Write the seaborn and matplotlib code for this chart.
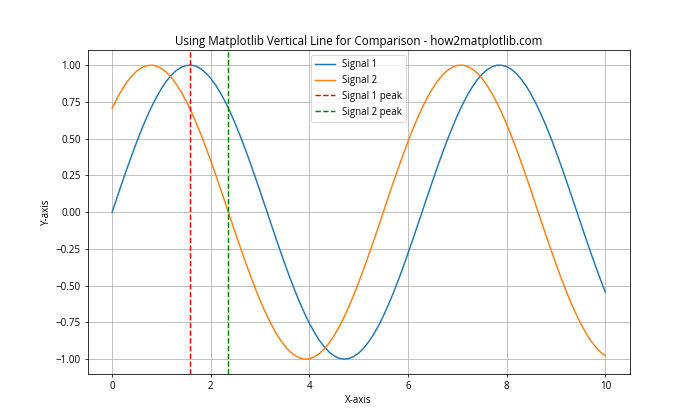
import matplotlib
matplotlib.use("Agg")
import matplotlib.pyplot as plt
import seaborn as sns
import pandas as pd

plt.rcParams['font.family'] = ['Open Sans', 'DejaVu Sans']

x_vals = [0.0, 0.1, 0.2, 0.3, 0.4, 0.5, 0.6, 0.7, 0.8, 0.9,
          1.0, 1.1, 1.2, 1.3, 1.4, 1.5, 1.6, 1.7, 1.8, 1.9,
          2.0, 2.1, 2.2, 2.3, 2.4, 2.5, 2.6, 2.7, 2.8, 2.9,
          3.0, 3.1, 3.2, 3.3, 3.4, 3.5, 3.6, 3.7, 3.8, 3.9,
          4.0, 4.1, 4.2, 4.3, 4.4, 4.5, 4.6, 4.7, 4.8, 4.9,
          5.0, 5.1, 5.2, 5.3, 5.4, 5.5, 5.6, 5.7, 5.8, 5.9,
          6.0, 6.1, 6.2, 6.3, 6.4, 6.5, 6.6, 6.7, 6.8, 6.9,
          7.0, 7.1, 7.2, 7.3, 7.4, 7.5, 7.6, 7.7, 7.8, 7.9,
          8.0, 8.1, 8.2, 8.3, 8.4, 8.5, 8.6, 8.7, 8.8, 8.9,
          9.0, 9.1, 9.2, 9.3, 9.4, 9.5, 9.6, 9.7, 9.8, 9.9, 10.0]
signal1 = [0.000, 0.100, 0.199, 0.296, 0.389, 0.479, 0.565, 0.644, 0.717, 0.783,
           0.841, 0.891, 0.932, 0.964, 0.985, 0.997, 1.000, 0.992, 0.974, 0.946,
           0.909, 0.863, 0.808, 0.746, 0.675, 0.598, 0.516, 0.427, 0.335, 0.239,
           0.141, 0.042, -0.058, -0.158, -0.256, -0.351, -0.443, -0.530, -0.612, -0.688,
           -0.757, -0.818, -0.872, -0.916, -0.952, -0.978, -0.994, -1.000, -0.996, -0.982,
           -0.959, -0.926, -0.883, -0.832, -0.773, -0.706, -0.631, -0.551, -0.465, -0.374,
           -0.279, -0.182, -0.083, 0.017, 0.117, 0.215, 0.312, 0.405, 0.494, 0.578,
           0.657, 0.729, 0.794, 0.850, 0.899, 0.938, 0.968, 0.988, 0.999, 0.999,
           0.989, 0.970, 0.941, 0.902, 0.855, 0.798, 0.734, 0.663, 0.585, 0.501,
           0.412, 0.319, 0.223, 0.124, 0.025, -0.075, -0.174, -0.272, -0.366, -0.458, -0.544]
signal2 = [0.707, 0.774, 0.834, 0.885, 0.926, 0.960, 0.983, 0.996, 1.000, 0.993,
           0.977, 0.951, 0.915, 0.870, 0.817, 0.755, 0.687, 0.610, 0.528, 0.441,
           0.349, 0.253, 0.155, 0.057, -0.044, -0.144, -0.241, -0.337, -0.429, -0.518,
           -0.600, -0.677, -0.747, -0.810, -0.865, -0.910, -0.948, -0.974, -0.992, -1.000,
           -0.998, -0.985, -0.963, -0.931, -0.890, -0.841, -0.782, -0.716, -0.643, -0.562,
           -0.477, -0.387, -0.293, -0.197, -0.098, 0.002, 0.103, 0.201, 0.298, 0.391,
           0.482, 0.566, 0.646, 0.719, 0.785, 0.843, 0.892, 0.933, 0.964, 0.986,
           0.998, 1.000, 0.991, 0.973, 0.946, 0.909, 0.863, 0.807, 0.745, 0.674,
           0.596, 0.513, 0.426, 0.333, 0.237, 0.139, 0.038, -0.062, -0.160, -0.258,
           -0.353, -0.445, -0.532, -0.614, -0.689, -0.758, -0.819, -0.873, -0.916, -0.952, -0.978]
peak1_x = 1.571
peak2_x = 2.356

title = "Using Matplotlib Vertical Line for Comparison - how2matplotlib.com"

df = pd.DataFrame({
    "x": x_vals * 2,
    "y": signal1 + signal2,
    "series": ["Signal 1"] * len(x_vals) + ["Signal 2"] * len(x_vals),
})

fig, ax = plt.subplots(figsize=(10, 6), dpi=70)
sns.lineplot(data=df, x="x", y="y", hue="series",
             palette=["#1f77b4", "#ff7f0e"], ax=ax, linewidth=1.5)
ax.axvline(peak1_x, color="red", linestyle="--", label="Signal 1 peak")
ax.axvline(peak2_x, color="green", linestyle="--", label="Signal 2 peak")

ax.set_title(title, fontsize=12)
ax.set_xlabel("X-axis")
ax.set_ylabel("Y-axis")
ax.grid(True)
ax.legend(loc="upper center")
fig.savefig("out.png", dpi=70)
